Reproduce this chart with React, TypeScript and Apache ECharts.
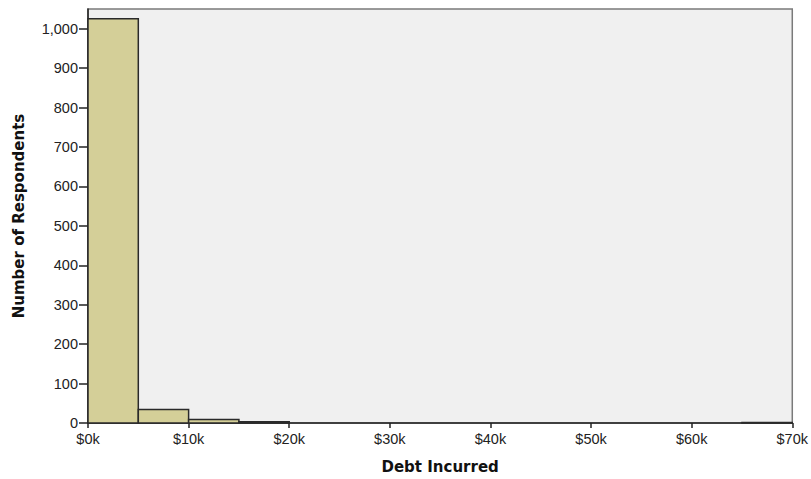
import React, { useEffect, useRef } from "react";
import * as echarts from "echarts";

const binStarts = [0, 5000, 10000, 15000, 65000];
const binEnds = [5000, 10000, 15000, 20000, 70000];
const counts = [1025, 34, 9, 3, 1];
const yTicks = [0, 100, 200, 300, 400, 500, 600, 700, 800, 900, 1000];
const xTicks = [0, 10000, 20000, 30000, 40000, 50000, 60000, 70000];

export default function App() {
  const ref = useRef<HTMLDivElement>(null);
  useEffect(() => {
    document.body.style.margin = "0";
    const chart = echarts.init(ref.current!, null, { renderer: "svg" });
    const data = binStarts.map((s, i) => [s, binEnds[i], counts[i]]);
    chart.setOption({
      animation: false,
      textStyle: { fontFamily: "Liberation Sans, Arial, sans-serif" },
      grid: {
        left: 88,
        right: 14,
        top: 9,
        bottom: 56,
        show: true,
        backgroundColor: "#f0f0f0",
        borderColor: "#7a7a7a",
        borderWidth: 1.5,
      },
      xAxis: {
        type: "value",
        min: 0,
        max: 70000,
        interval: 10000,
        name: "Debt Incurred",
        nameLocation: "middle",
        nameGap: 36,
        nameTextStyle: { fontSize: 15, fontWeight: "bold", color: "#111", fontFamily: "DejaVu Sans" },
        splitLine: { show: false },
        axisLine: { show: true, lineStyle: { color: "#222", width: 1.5 } },
        axisTick: { show: true, length: 5, lineStyle: { color: "#222", width: 1.5 } },
        axisLabel: {
          color: "#222",
          fontSize: 14.5,
          margin: 8,
          formatter: (v: number) => "$" + Math.round(v / 1000) + "k",
          customValues: xTicks,
        },
      },
      yAxis: {
        type: "value",
        min: 0,
        max: 1050,
        name: "Number of Respondents",
        nameLocation: "middle",
        nameGap: 62,
        nameTextStyle: { fontSize: 15, fontWeight: "bold", color: "#111", fontFamily: "DejaVu Sans" },
        splitLine: { show: false },
        axisLine: { show: true, lineStyle: { color: "#222", width: 1.5 } },
        axisTick: { show: true, length: 9, lineStyle: { color: "#222", width: 1.5 }, customValues: yTicks },
        axisLabel: {
          color: "#222",
          fontSize: 14.5,
          margin: 10,
          customValues: yTicks,
          formatter: (v: number) => v.toLocaleString("en-US"),
        },
      },
      series: [
        {
          type: "custom",
          data,
          encode: { x: [0, 1], y: 2 },
          renderItem: (params: any, api: any) => {
            const p0 = api.coord([api.value(0), api.value(2)]);
            const p1 = api.coord([api.value(1), 0]);
            return {
              type: "rect",
              shape: { x: p0[0], y: p0[1], width: p1[0] - p0[0], height: p1[1] - p0[1] },
              style: { fill: "#d4cf98", stroke: "#2a2a2a", lineWidth: 1.5 },
            };
          },
        },
      ],
    });
    return () => chart.dispose();
  }, []);
  return <div ref={ref} style={{ width: 811, height: 479 }} />;
}
